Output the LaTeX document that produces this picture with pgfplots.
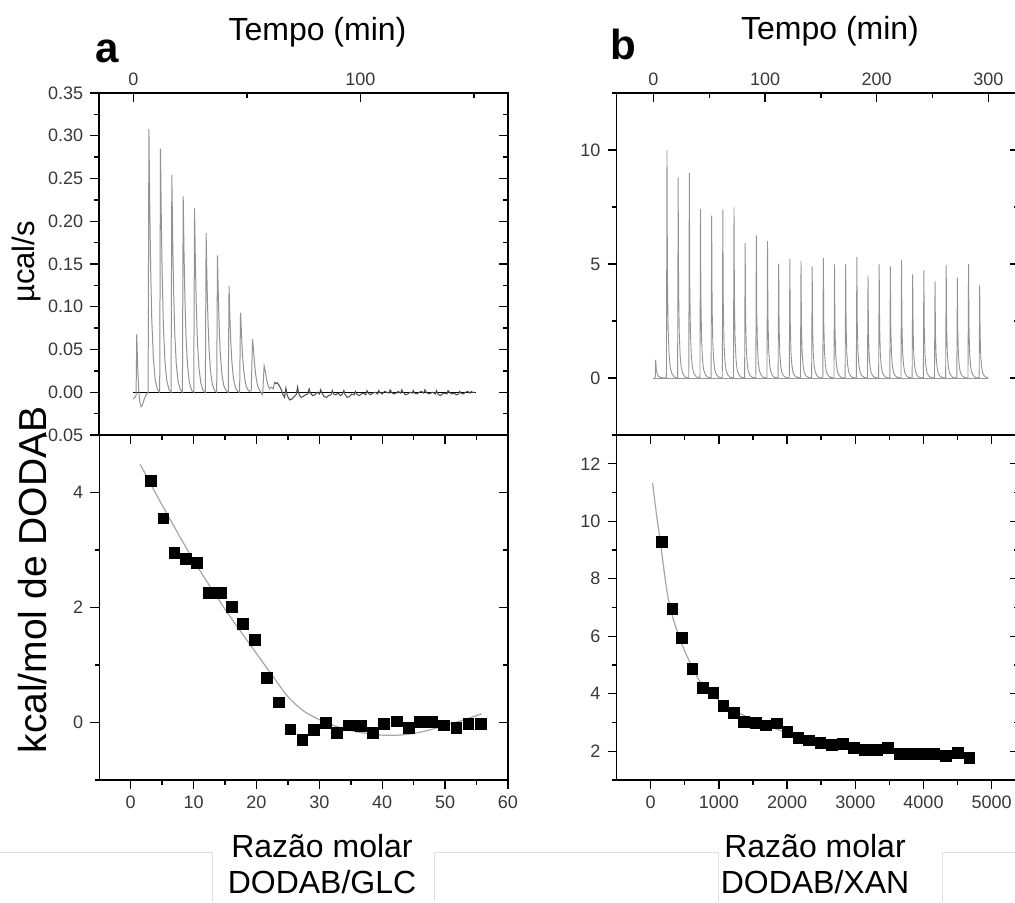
\documentclass[border=0pt]{standalone}
\usepackage{pgfplots}
\pgfplotsset{compat=1.18}
\usepackage{fontspec}
\setmainfont{Liberation Sans}
\begin{document}
\begin{tikzpicture}
\pgfplotsset{
  common/.style={scale only axis, axis line style={line width=0.8pt,black},
    tick style={line width=0.7pt,black}, major tick length=4.5pt, minor tick length=2.4pt,
    tick label style={font=\fontsize{9}{10}\selectfont, text=black!78},
    /pgf/number format/assume math mode=true, /pgf/number format/1000 sep={},
    scaled ticks=false},
  TL/.style={common, width=204.35pt, height=171pt, xmin=-15, xmax=165, ymin=-0.05, ymax=0.35,
    at={(49.65pt,233.5pt)}, anchor=south west,
    ytick={-0.05,0,0.05,0.1,0.15,0.2,0.25,0.3,0.35},
    minor ytick={-0.025,0.025,0.075,0.125,0.175,0.225,0.275,0.325}},
  BL/.style={common, width=204.35pt, height=172.5pt, xmin=-5, xmax=60, ymin=-1, ymax=5,
    at={(49.65pt,61pt)}, anchor=south west,
    xtick={0,10,20,30,40,50,60}, minor xtick={5,15,25,35,45,55},
    ytick={0,2,4}, minor ytick={-1,1,3,5}},
  TR/.style={common, width=201.25pt, height=171pt, xmin=-33, xmax=327.4, ymin=-2.5, ymax=12.5,
    at={(308.25pt,233.5pt)}, anchor=south west,
    ytick={0,5,10}, minor ytick={-2.5,2.5,7.5,12.5}},
  BR/.style={common, width=201.25pt, height=172.5pt, xmin=-500, xmax=5400, ymin=1, ymax=13,
    at={(308.25pt,61pt)}, anchor=south west,
    xtick={0,1000,2000,3000,4000,5000}, minor xtick={500,1500,2500,3500,4500},
    ytick={2,4,6,8,10,12}, minor ytick={1,3,5,7,9,11,13}},
}
% ---------------- top left ----------------
\begin{axis}[TL, xtick=\empty, ytick pos=left, tick align=outside,
  yticklabel style={/pgf/number format/.cd, fixed, fixed zerofill, precision=2}]
\addplot[black, line width=0.4pt] coordinates {(0,0) (151,0)};
\addplot[gray!85, line width=0.5pt] coordinates {
(0,-0.008)(0.6,-0.006)(1.2,-0.004)(1.5,0.068)(1.9,0.03)(2.4,0.0)(2.9,-0.012)(3.4,-0.017)(4.0,-0.015)(4.8,-0.008)(5.6,-0.003)
(6.5,0)(6.85,0.308)(7.2,0.222)(7.6,0.148)(8.1,0.086)(8.8,0.040)(9.6,0.015)(10.6,0.003)
(11.6,0)(11.95,0.285)(12.3,0.205)(12.7,0.137)(13.2,0.080)(13.9,0.037)(14.7,0.014)(15.7,0.003)
(16.6,0)(16.95,0.254)(17.3,0.183)(17.7,0.122)(18.2,0.071)(18.9,0.033)(19.7,0.013)(20.7,0.003)
(21.6,0)(21.95,0.229)(22.3,0.165)(22.7,0.110)(23.2,0.064)(23.9,0.030)(24.7,0.011)(25.7,0.002)
(26.6,0)(26.95,0.215)(27.3,0.155)(27.7,0.103)(28.2,0.060)(28.9,0.028)(29.7,0.011)(30.7,0.002)
(31.7,0)(32.05,0.186)(32.4,0.134)(32.8,0.089)(33.3,0.052)(34.0,0.024)(34.8,0.009)(35.8,0.002)
(36.7,0)(37.05,0.160)(37.4,0.115)(37.8,0.077)(38.3,0.045)(39.0,0.021)(39.8,0.008)(40.8,0.002)
(41.8,0)(42.15,0.124)(42.5,0.089)(42.9,0.060)(43.4,0.035)(44.1,0.016)(44.9,0.006)(45.9,0.001)
(46.8,0)(47.2,0.093)(47.6,0.070)(48.0,0.047)(48.5,0.028)(49.2,0.013)(50.0,0.005)(51.0,0.001)
(51.9,0.002)(52.5,0.062)(52.9,0.050)(53.4,0.033)(53.9,0.020)(54.6,0.009)(55.4,0.003)(56.2,0)
(56.8,-0.003)(57.0,0)(57.6,0.031)(58.1,0.025)(58.6,0.016)(59.2,0.009)(59.9,0.004)(60.8,0.006)(61.6,0.004)
(62.2,0.012)};
\addplot[black!70, line width=0.5pt] coordinates {
(62.2,0.012)(62.8,0.010)(63.4,0.011)(64.2,0.008)(65.0,0.004)(65.8,-0.002)(66.6,-0.006)
(67.2,0.005)(67.8,-0.004)(68.8,-0.009)(69.8,-0.008)(70.8,-0.005)(71.7,-0.003)
(72.3,0.006)(72.9,-0.002)(73.8,-0.006)(74.8,-0.005)(75.8,-0.003)(76.8,-0.002)
(77.4,0.004)(78.0,-0.001)(79.0,-0.004)(80.0,-0.003)(81.0,0.000)(82.0,-0.002)
(82.5,0.003)(83.1,-0.001)(84.0,-0.005)(85.0,-0.006)(86.0,-0.004)(87.0,-0.003)
(87.6,0.002)(88.2,-0.002)(89.2,-0.003)(90.2,-0.001)(91.2,-0.004)(92.1,-0.002)
(92.7,0.002)(93.3,-0.003)(94.2,-0.006)(95.2,-0.005)(96.2,-0.002)(97.2,-0.003)
(97.8,0.001)(98.4,-0.002)(99.4,-0.004)(100.4,-0.002)(101.4,-0.001)(102.4,-0.003)
(102.9,0.002)(103.5,-0.001)(104.5,-0.003)(105.5,-0.001)(106.5,0.000)(107.5,-0.002)
(108.0,0.002)(108.6,0.000)(109.6,-0.002)(110.6,0.001)(111.6,0.000)(112.6,-0.001)
(113.1,0.003)(113.7,0.000)(114.7,-0.002)(115.7,-0.001)(116.7,0.001)(117.7,-0.001)
(118.2,0.003)(118.8,0.000)(119.8,-0.003)(120.8,-0.002)(121.8,0.000)(122.8,-0.001)
(123.3,0.002)(123.9,-0.001)(124.9,-0.002)(125.9,0.000)(126.9,0.001)(127.9,-0.001)
(128.4,0.003)(129.0,0.000)(130.0,-0.002)(131.0,-0.001)(132.0,0.000)(133.0,-0.002)
(133.5,0.002)(134.1,-0.002)(135.1,-0.004)(136.1,-0.002)(137.1,-0.001)(138.1,-0.002)
(138.6,0.002)(139.2,0.000)(140.2,-0.002)(141.2,-0.001)(142.2,-0.003)(143.2,-0.002)
(143.7,0.001)(144.3,-0.001)(145.3,-0.002)(146.3,0.000)(147.3,0.001)(148.3,-0.001)
(148.8,0.001)(149.4,0.000)(150.5,0.000)};
\end{axis}
\begin{axis}[TL, xtick={0,100}, minor xtick={50,150}, xtick pos=right, xticklabel pos=right,
  ytick pos=right, yticklabels={}, tick align=inside]
\end{axis}
% ---------------- bottom left ----------------
\begin{axis}[BL, xtick pos=left, ytick pos=left, tick align=outside]
\addplot[gray!70, line width=0.6pt, smooth] coordinates {
(1.5,4.49)(5,3.78)(10,2.82)(15,1.97)(20,1.2)(22.5,0.82)(25,0.45)(27.5,0.2)(30,0.05)(32.5,-0.06)
(35,-0.14)(37.5,-0.19)(40,-0.22)(42.5,-0.22)(45,-0.19)(47.5,-0.13)(50,-0.05)(52.5,0.03)(55.8,0.15)};
\addplot[only marks, mark=square*, mark size=2.7pt, black] coordinates {
(3.18,4.20)(5.19,3.55)(6.94,2.95)(8.79,2.85)(10.54,2.78)(12.45,2.26)(14.3,2.26)(16.1,2.01)
(17.9,1.72)(19.8,1.43)(21.7,0.77)(23.6,0.35)(25.4,-0.12)(27.3,-0.30)(29.1,-0.13)(31.0,-0.01)
(32.8,-0.18)(34.7,-0.05)(36.6,-0.06)(38.5,-0.18)(40.3,-0.03)(42.3,0.02)(44.2,-0.09)(46.0,0.01)
(47.9,0.01)(49.8,-0.05)(51.8,-0.10)(53.7,-0.03)(55.7,-0.02)};
\end{axis}
\begin{axis}[BL, xtick pos=right, ytick pos=right, tick align=inside, xticklabels={}, yticklabels={}]
\end{axis}
% ---------------- top right ----------------
\begin{axis}[TR, xtick=\empty, ytick pos=left, tick align=outside]
\addplot[gray!80, line width=0.4pt] coordinates {(0,0) (300,0)};
\addplot[gray!85, line width=0.45pt] coordinates {
(0,0)(1.7,0)(2.1,0.8)(2.6,0.4)(3.3,0.2)(4.5,0.08)(6,0.03)(8,0.01)
(11.7,0)(12.2,10.0)(12.6,4.5)(13.2,2.2)(14.0,1.1)(15.0,0.50)(16.5,0.20)(18.5,0.05)
(21.7,0)(22.2,8.8)(22.6,3.96)(23.2,1.94)(24.0,0.97)(25.0,0.44)(26.5,0.18)(28.5,0.04)
(31.7,0)(32.2,9.0)(32.6,4.05)(33.2,1.98)(34.0,0.99)(35.0,0.45)(36.5,0.18)(38.5,0.05)
(41.7,0)(42.2,7.42)(42.6,3.34)(43.2,1.63)(44.0,0.82)(45.0,0.37)(46.5,0.15)(48.5,0.04)
(51.7,0)(52.2,7.12)(52.6,3.2)(53.2,1.57)(54.0,0.78)(55.0,0.36)(56.5,0.14)(58.5,0.04)
(61.7,0)(62.2,7.38)(62.6,3.32)(63.2,1.62)(64.0,0.81)(65.0,0.37)(66.5,0.15)(68.5,0.04)
(71.7,0)(72.2,7.48)(72.6,3.37)(73.2,1.65)(74.0,0.82)(75.0,0.37)(76.5,0.15)(78.5,0.04)
(81.7,0)(82.2,5.92)(82.6,2.66)(83.2,1.3)(84.0,0.65)(85.0,0.30)(86.5,0.12)(88.5,0.03)
(91.7,0)(92.2,6.26)(92.6,2.82)(93.2,1.38)(94.0,0.69)(95.0,0.31)(96.5,0.13)(98.5,0.03)
(101.7,0)(102.2,6.0)(102.6,2.7)(103.2,1.32)(104.0,0.66)(105.0,0.30)(106.5,0.12)(108.5,0.03)
(111.7,0)(112.2,5.02)(112.6,2.26)(113.2,1.1)(114.0,0.55)(115.0,0.25)(116.5,0.10)(118.5,0.03)
(121.7,0)(122.2,5.23)(122.6,2.35)(123.2,1.15)(124.0,0.58)(125.0,0.26)(126.5,0.10)(128.5,0.03)
(131.7,0)(132.2,5.15)(132.6,2.32)(133.2,1.13)(134.0,0.57)(135.0,0.26)(136.5,0.10)(138.5,0.03)
(141.7,0)(142.2,4.9)(142.6,2.2)(143.2,1.08)(144.0,0.54)(145.0,0.25)(146.5,0.10)(148.5,0.02)
(151.7,0)(152.2,5.27)(152.6,2.37)(153.2,1.16)(154.0,0.58)(155.0,0.26)(156.5,0.11)(158.5,0.03)
(161.7,0)(162.2,4.98)(162.6,2.24)(163.2,1.1)(164.0,0.55)(165.0,0.25)(166.5,0.10)(168.5,0.02)
(171.7,0)(172.2,4.98)(172.6,2.24)(173.2,1.1)(174.0,0.55)(175.0,0.25)(176.5,0.10)(178.5,0.02)
(181.7,0)(182.2,5.31)(182.6,2.39)(183.2,1.17)(184.0,0.58)(185.0,0.27)(186.5,0.11)(188.5,0.03)
(191.7,0)(192.2,4.5)(192.6,2.03)(193.2,0.99)(194.0,0.5)(195.0,0.23)(196.5,0.09)(198.5,0.02)
(201.7,0)(202.2,4.98)(202.6,2.24)(203.2,1.1)(204.0,0.55)(205.0,0.25)(206.5,0.10)(208.5,0.02)
(211.7,0)(212.2,4.9)(212.6,2.2)(213.2,1.08)(214.0,0.54)(215.0,0.25)(216.5,0.10)(218.5,0.02)
(221.7,0)(222.2,5.17)(222.6,2.33)(223.2,1.14)(224.0,0.57)(225.0,0.26)(226.5,0.10)(228.5,0.03)
(231.7,0)(232.2,4.54)(232.6,2.04)(233.2,1.0)(234.0,0.5)(235.0,0.23)(236.5,0.09)(238.5,0.02)
(241.7,0)(242.2,4.72)(242.6,2.12)(243.2,1.04)(244.0,0.52)(245.0,0.24)(246.5,0.09)(248.5,0.02)
(251.7,0)(252.2,4.25)(252.6,1.91)(253.2,0.94)(254.0,0.47)(255.0,0.21)(256.5,0.09)(258.5,0.02)
(261.7,0)(262.2,4.96)(262.6,2.23)(263.2,1.09)(264.0,0.55)(265.0,0.25)(266.5,0.10)(268.5,0.02)
(271.7,0)(272.2,4.4)(272.6,1.98)(273.2,0.97)(274.0,0.48)(275.0,0.22)(276.5,0.09)(278.5,0.02)
(281.7,0)(282.2,4.99)(282.6,2.25)(283.2,1.1)(284.0,0.55)(285.0,0.25)(286.5,0.10)(288.5,0.02)
(291.7,0)(292.2,4.08)(292.6,1.84)(293.2,0.9)(294.0,0.45)(295.0,0.2)(296.5,0.08)(298.5,0.02)(300,0)};
\end{axis}
\begin{axis}[TR, xtick={0,100,200,300}, minor xtick={50,150,250}, xtick pos=right, xticklabel pos=right,
  ytick pos=right, yticklabels={}, tick align=inside]
\end{axis}
% ---------------- bottom right ----------------
\begin{axis}[BR, xtick pos=left, ytick pos=left, tick align=outside]
\addplot[gray!70, line width=0.6pt, smooth] coordinates {
(29,11.33)(88,10.2)(137,9.38)(235,7.64)(318,6.71)(464,5.69)(626,4.85)(772,4.27)(1114,3.57)
(1603,2.99)(2092,2.58)(2581,2.35)(3070,2.17)(3558,2.06)(4047,2.0)(4682,1.88)};
\addplot[only marks, mark=square*, mark size=2.7pt, black] coordinates {
(171,9.27)(318,6.94)(464,5.95)(611,4.87)(767,4.21)(919,4.03)(1066,3.59)(1217,3.34)(1373,3.02)
(1540,2.99)(1691,2.90)(1848,2.97)(2004,2.66)(2165,2.47)(2322,2.38)(2488,2.29)(2654,2.21)
(2815,2.27)(2977,2.12)(3143,2.06)(3314,2.06)(3475,2.12)(3646,1.92)(3812,1.92)(3988,1.92)
(4159,1.92)(4330,1.83)(4501,1.94)(4673,1.77)};
\end{axis}
\begin{axis}[BR, xtick pos=right, ytick pos=right, tick align=inside, xticklabels={}, yticklabels={}]
\end{axis}
% ---------------- texts ----------------
\node[anchor=base, font=\fontsize{16}{16}\selectfont] at (158.75pt,430.5pt) {Tempo (min)};
\node[anchor=base, font=\fontsize{16}{16}\selectfont] at (415pt,431pt) {Tempo (min)};
\node[anchor=base, font=\fontsize{21}{21}\selectfont\bfseries] at (53.75pt,420pt) {a};
\node[anchor=base, font=\fontsize{21}{21}\selectfont\bfseries] at (311.5pt,421pt) {b};
\node[anchor=base, rotate=90, font=\fontsize{15.5}{16}\selectfont] at (17pt,320pt) {µcal/s};
\node[anchor=base, rotate=90, font=\fontsize{19.5}{19.5}\selectfont] at (23.5pt,161pt) {kcal/mol de DODAB};
\node[anchor=base, font=\fontsize{16}{16}\selectfont] at (161pt,22.5pt) {Razão molar};
\node[anchor=base, font=\fontsize{16}{16}\selectfont] at (161pt,4.5pt) {DODAB/GLC};
\node[anchor=base, font=\fontsize{16}{16}\selectfont] at (407.5pt,22.5pt) {Razão molar};
\node[anchor=base, font=\fontsize{16}{16}\selectfont] at (407.5pt,4.5pt) {DODAB/XAN};
\draw[black!12, line width=0.5pt] (0,25pt) -- (106pt,25pt) -- (106pt,0);
\draw[black!12, line width=0.5pt] (217pt,0) -- (217pt,25pt) -- (359pt,25pt) -- (359pt,0);
\draw[black!12, line width=0.5pt] (471pt,0) -- (471pt,25pt) -- (507.5pt,25pt);
\pgfresetboundingbox
\path[use as bounding box] (0,0) rectangle (507.5pt,451pt);
\end{tikzpicture}
\end{document}
